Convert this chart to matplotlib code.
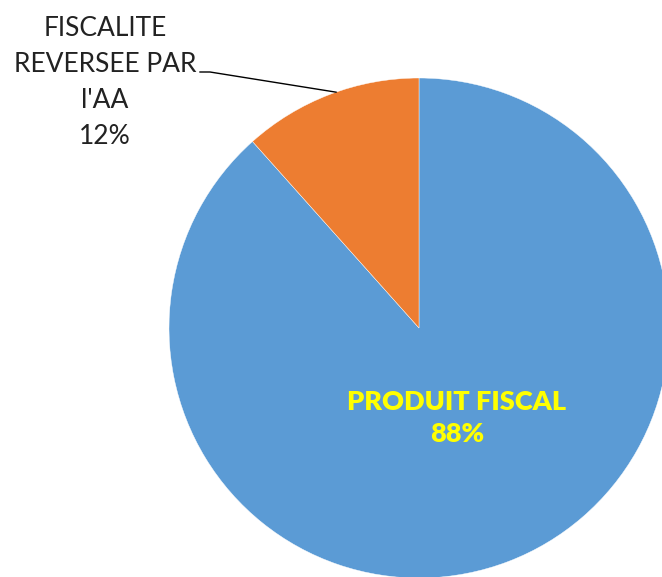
import numpy as np
import matplotlib
matplotlib.use("Agg")
import matplotlib.pyplot as plt

labels = ["PRODUIT FISCAL", "FISCALITE\nREVERSEE PAR\nl'AA"]
values = [88.4, 11.6]
colors = ["#5B9BD5", "#ED7D31"]

plt.rcParams['font.family'] = ['Lato', 'DejaVu Sans']

W, H = 662, 577
fig = plt.figure(figsize=(W / 100, H / 100), dpi=100)
ax = fig.add_axes([0, 0, 1, 1])
ax.set_xlim(0, W)
ax.set_ylim(0, H)
ax.set_aspect('equal')
ax.axis('off')

cx, cy, R = 419, H - 328, 250
wedges, _ = ax.pie(values, colors=colors, startangle=90, counterclock=False,
                   radius=R, center=(cx, cy), frame=True,
                   wedgeprops=dict(edgecolor='white', linewidth=0.3))
ax.set_xlim(0, W)
ax.set_ylim(0, H)
ax.axis('off')

total = sum(values)
# inner label for the big slice
ax.text(457, H - 418, f"{labels[0]}\n{values[0] / total * 100:.0f}%",
        ha='center', va='center', color='#FFFF00', fontsize=19.5,
        fontweight='heavy', linespacing=1.4)

# outside label for the small slice with a leader line
w = wedges[1]
mid = np.deg2rad((w.theta1 + w.theta2) / 2 - 1.5)
px, py = cx + R * np.cos(mid), cy + R * np.sin(mid)
ax.plot([200, 210, px], [H - 72, H - 72, py], color='black', lw=1)
ax.text(105, H - 83, f"{labels[1]}\n{values[1] / total * 100:.0f}%",
        ha='center', va='center', color='#222222', fontsize=19,
        linespacing=1.55)

fig.savefig("out.png", dpi=100)
